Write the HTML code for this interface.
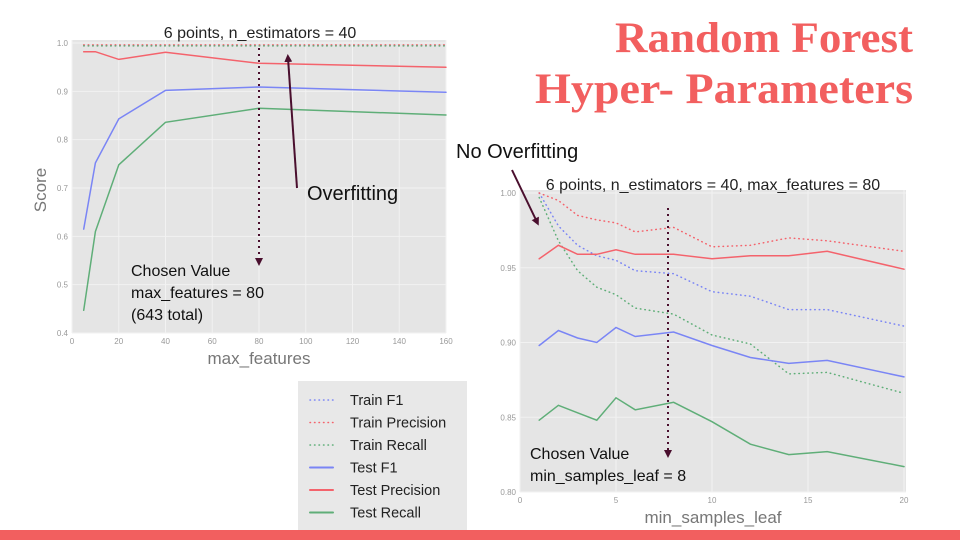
<!DOCTYPE html>
<html><head><meta charset="utf-8"><style>
html,body{margin:0;padding:0;background:#fff;}
svg{display:block;font-family:"Liberation Sans",sans-serif;}
</style></head><body>
<svg id="s" width="960" height="540" viewBox="0 0 960 540">
<text x="615" y="52" textLength="298" lengthAdjust="spacingAndGlyphs" font-family="Liberation Serif,serif" font-weight="bold" font-size="43" fill="#f25f5f">Random Forest</text>
<text x="535" y="103" textLength="378" lengthAdjust="spacingAndGlyphs" font-family="Liberation Serif,serif" font-weight="bold" font-size="43" fill="#f25f5f">Hyper- Parameters</text>
<rect x="0" y="530" width="960" height="10" fill="#f25f5f"/>
<g id="left"></g>
<g id="right"></g>
<g id="legend"></g>
<g id="ann"></g>
</svg>
<script>
const leftX=[5,10,20,40,80,160];
const leftTrainF1=[0.995,0.995,0.995,0.995,0.995,0.995];
const leftTrainPrec=[0.996,0.996,0.996,0.996,0.996,0.996];
const leftTrainRec=[0.994,0.994,0.994,0.994,0.994,0.994];
const leftTestF1=[0.615,0.752,0.843,0.902,0.909,0.898];
const leftTestPrec=[0.982,0.982,0.966,0.981,0.958,0.950];
const leftTestRec=[0.447,0.610,0.748,0.836,0.865,0.851];
const leftXTicks=[0,20,40,60,80,100,120,140,160];
const leftYTicks=[0.4,0.5,0.6,0.7,0.8,0.9,1.0];

const rightX=[1,2,3,4,5,6,8,10,12,14,16,20];
const rightTrainF1=[1.0,0.978,0.965,0.958,0.955,0.948,0.946,0.934,0.931,0.922,0.922,0.911];
const rightTrainPrec=[1.0,0.995,0.985,0.982,0.980,0.974,0.977,0.964,0.965,0.970,0.968,0.961];
const rightTrainRec=[0.997,0.968,0.948,0.937,0.932,0.923,0.919,0.905,0.899,0.879,0.880,0.866];
const rightTestF1=[0.898,0.908,0.903,0.900,0.910,0.904,0.907,0.898,0.890,0.886,0.888,0.877];
const rightTestPrec=[0.956,0.965,0.959,0.959,0.962,0.959,0.959,0.956,0.958,0.958,0.961,0.949];
const rightTestRec=[0.848,0.858,0.853,0.848,0.863,0.855,0.860,0.847,0.832,0.825,0.827,0.817];
const rightXTicks=[0,5,10,15,20];
const rightYTicks=[0.80,0.85,0.90,0.95,1.00];

const NS="http://www.w3.org/2000/svg";
function mk(p,tag,at,txt){const e=document.createElementNS(NS,tag);for(const k in at)e.setAttribute(k,at[k]);if(txt!==undefined)e.textContent=txt;p.appendChild(e);return e;}
const BLUE="#7a85f5",RED="#f4636c",GREEN="#5fae78";

function chart(g,o){
  const sx=v=>o.x0+(v-o.xmin)/(o.xmax-o.xmin)*(o.x1-o.x0);
  const sy=v=>o.y0+(o.ymax-v)/(o.ymax-o.ymin)*(o.y1-o.y0);
  const bg=mk(g,'rect',{x:o.bx0,y:o.by0,width:o.bx1-o.bx0,height:o.by1-o.by0,fill:'#e5e5e5'});
  
  
  o.xt.forEach(t=>{
    const l=mk(g,'line',{x1:sx(t),x2:sx(t),y1:o.by0,y2:o.by1,stroke:'#f2f2f2','stroke-width':1});
    
    
    const tx=mk(g,'text',{x:sx(t),y:o.by1+11,'text-anchor':'middle','font-size':8,fill:'#999'},t);
    
    
  });
  o.yt.forEach(t=>{
    const l=mk(g,'line',{x1:o.bx0,x2:o.bx1,y1:sy(t),y2:sy(t),stroke:'#f2f2f2','stroke-width':1});
    
    
    const tx=mk(g,'text',{x:o.bx0-4,y:sy(t)+3,'text-anchor':'end','font-size':8,fill:'#999'},t.toFixed(o.yd));
    
    
  });
  o.series.forEach(s=>{
    const d=o.xs.map((x,i)=>(i?'L':'M')+sx(x).toFixed(1)+','+sy(s.v[i]).toFixed(1)).join(' ');
    const p=mk(g,'path',{d:d,fill:'none',stroke:s.c,'stroke-width':1.5,'stroke-dasharray':s.dash||'none','stroke-linecap':'round'});
    
    
  });
  const xl=mk(g,'text',{x:(o.bx0+o.bx1)/2,y:o.by1+31,'text-anchor':'middle','font-size':17,fill:'#777'},o.xlabel);
  
  
  const tl=mk(g,'text',{x:o.tx,y:o.ty,'text-anchor':'middle','font-size':16,fill:'#222'},o.title);
  
  
  return {sx,sy};
}
const DOT='0.5 4';
chart(document.getElementById('left'),{x0:72,x1:446,xmin:0,xmax:160,y0:43,y1:333,ymin:0.4,ymax:1.0,
  bx0:72,bx1:446,by0:40,by1:333,xt:leftXTicks,yt:leftYTicks,yd:1,xs:leftX,xlabel:'max_features',
  title:'6 points, n_estimators = 40',tx:260,ty:38,
  series:[{n:'train-f1-line',v:leftTrainF1,c:BLUE,dash:DOT},{n:'train-precision-line',v:leftTrainPrec,c:RED,dash:DOT},{n:'train-recall-line',v:leftTrainRec,c:GREEN,dash:DOT},
  {n:'test-f1-line',v:leftTestF1,c:BLUE},{n:'test-precision-line',v:leftTestPrec,c:RED},{n:'test-recall-line',v:leftTestRec,c:GREEN}]});
const yl=mk(document.getElementById('left'),'text',{x:46,y:190,'text-anchor':'middle','font-size':17,fill:'#777',transform:'rotate(-90 46 190)'},'Score');



chart(document.getElementById('right'),{x0:520,x1:904,xmin:0,xmax:20,y0:193,y1:492,ymin:0.80,ymax:1.00,
  bx0:520,bx1:906,by0:190,by1:492,xt:rightXTicks,yt:rightYTicks,yd:2,xs:rightX,xlabel:'min_samples_leaf',
  title:'6 points, n_estimators = 40, max_features = 80',tx:713,ty:190,
  series:[{n:'train-f1-line',v:rightTrainF1,c:BLUE,dash:DOT},{n:'train-precision-line',v:rightTrainPrec,c:RED,dash:DOT},{n:'train-recall-line',v:rightTrainRec,c:GREEN,dash:DOT},
  {n:'test-f1-line',v:rightTestF1,c:BLUE},{n:'test-precision-line',v:rightTestPrec,c:RED},{n:'test-recall-line',v:rightTestRec,c:GREEN}]});

const lg=document.getElementById('legend');
mk(lg,'rect',{x:298,y:381,width:169,height:149,fill:'#e8e8e8'});
const items=[['Train F1',BLUE,DOT],['Train Precision',RED,DOT],['Train Recall',GREEN,DOT],['Test F1',BLUE,null],['Test Precision',RED,null],['Test Recall',GREEN,null]];
items.forEach((it,i)=>{
  const y=400+i*22.5;
  const ln=mk(lg,'line',{x1:310,x2:333,y1:y,y2:y,stroke:it[1],'stroke-width':it[2]?1.5:2,'stroke-dasharray':it[2]||'none','stroke-linecap':'round'});
  
  
  const t=mk(lg,'text',{x:350,y:y+5,'font-size':14.5,fill:'#222'},it[0]);
  
  
});

const an=document.getElementById('ann');
mk(an,'defs',{}).innerHTML='<marker id="ah" markerWidth="8" markerHeight="8" refX="4" refY="4" orient="auto" markerUnits="userSpaceOnUse"><path d="M0,0 L8,4 L0,8 z" fill="#4a0f2e"/></marker>';
mk(an,'line',{x1:259,y1:48,x2:259,y2:262,stroke:'#4a0f2e','stroke-width':2,'stroke-dasharray':'2 4','marker-end':'url(#ah)'});
mk(an,'line',{x1:297,y1:188,x2:288,y2:58,stroke:'#4a0f2e','stroke-width':2,'marker-end':'url(#ah)'});
mk(an,'line',{x1:668,y1:208,x2:668,y2:454,stroke:'#4a0f2e','stroke-width':2,'stroke-dasharray':'2 4','marker-end':'url(#ah)'});
mk(an,'line',{x1:512,y1:170,x2:537,y2:222,stroke:'#4a0f2e','stroke-width':2,'marker-end':'url(#ah)'});
[['Overfitting',307,200,20],['No Overfitting',456,158,20],['Chosen Value',131,276,16],['max_features = 80',131,298,16],['(643 total)',131,320,16],['Chosen Value',530,459,16],['min_samples_leaf = 8',530,481,16]].forEach(a=>{
  const t=mk(an,'text',{x:a[1],y:a[2],'font-size':a[3],fill:'#111'},a[0]);
  
  
});
</script>
</body></html>
